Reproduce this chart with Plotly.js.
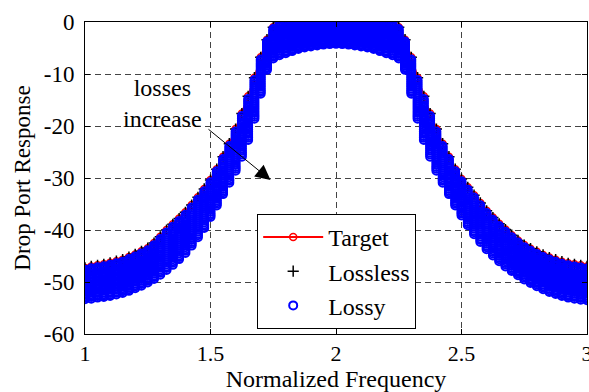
<!DOCTYPE html>
<html>
<head>
<meta charset="utf-8">
<script src="https://cdn.plot.ly/plotly-3.0.1.min.js"></script>
<style>
html,body{margin:0;padding:0;background:#fff;}
#chart{width:589px;height:392px;}
</style>
</head>
<body>
<div id="chart"></div>
<script>
// Normalized frequency samples
var freq = [1.000,1.025,1.050,1.075,1.100,1.125,1.150,1.175,1.200,1.225,1.250,1.275,1.300,1.325,1.350,1.375,1.400,1.425,1.450,1.475,
            1.500,1.525,1.550,1.575,1.600,1.625,1.650,1.675,1.700,1.725,1.750,1.775,1.800,1.825,1.850,1.875,1.900,1.925,1.950,1.975,
            2.000,2.025,2.050,2.075,2.100,2.125,2.150,2.175,2.200,2.225,2.250,2.275,2.300,2.325,2.350,2.375,2.400,2.425,2.450,2.475,
            2.500,2.525,2.550,2.575,2.600,2.625,2.650,2.675,2.700,2.725,2.750,2.775,2.800,2.825,2.850,2.875,2.900,2.925,2.950,2.975,3.000];

// Target drop port response (dB)
var target = [-47.3,-47.0,-46.8,-46.6,-46.3,-46.0,-45.7,-45.2,-44.7,-44.1,-43.5,-42.5,-41.3,-40.0,-38.9,-37.8,-36.6,-35.2,-33.7,-32.1,
              -30.4,-28.3,-25.9,-23.4,-20.6,-17.6,-14.3,-10.7,-6.8,-3.4,-1.0,0,0,0,0,0,0,0,0,0,
              0,0,0,0,0,0,0,0,0,0,-1.0,-3.4,-6.8,-10.7,-14.3,-17.6,-20.6,-23.4,-25.9,-28.3,
              -30.2,-31.8,-33.3,-34.8,-36.3,-37.6,-38.8,-39.9,-41.0,-42.0,-42.9,-43.6,-44.2,-44.8,-45.3,-45.7,-46.1,-46.4,-46.6,-46.8,-47.0];

// Lossless synthesized response (dB) - coincides with target
var lossless = [-47.3,-47.0,-46.8,-46.6,-46.3,-46.0,-45.7,-45.2,-44.7,-44.1,-43.5,-42.5,-41.3,-40.0,-38.9,-37.8,-36.6,-35.2,-33.7,-32.1,
              -30.4,-28.3,-25.9,-23.4,-20.6,-17.6,-14.3,-10.7,-6.8,-3.4,-1.0,0,0,0,0,0,0,0,0,0,
              0,0,0,0,0,0,0,0,0,0,-1.0,-3.4,-6.8,-10.7,-14.3,-17.6,-20.6,-23.4,-25.9,-28.3,
              -30.2,-31.8,-33.3,-34.8,-36.3,-37.6,-38.8,-39.9,-41.0,-42.0,-42.9,-43.6,-44.2,-44.8,-45.3,-45.7,-46.1,-46.4,-46.6,-46.8,-47.0];

// Lossy response at the highest loss (dB)
var lossyMax = [-53.3,-53.2,-53.0,-52.9,-52.7,-52.4,-52.1,-51.7,-51.2,-50.7,-50.1,-49.4,-48.6,-47.7,-46.7,-45.6,-44.4,-43.0,-41.4,-39.6,
                -37.5,-35.3,-33.1,-30.9,-28.6,-25.9,-22.7,-18.6,-13.8,-9.2,-7.0,-6.4,-6.0,-5.6,-5.2,-4.9,-4.7,-4.5,-4.35,-4.25,
                -4.2,-4.25,-4.35,-4.5,-4.7,-4.9,-5.2,-5.6,-6.0,-6.4,-7.0,-9.2,-13.8,-18.6,-22.7,-25.9,-28.6,-30.9,-33.1,-35.3,
                -37.2,-39.1,-40.8,-42.3,-43.7,-44.9,-46.0,-47.0,-47.9,-48.7,-49.5,-50.2,-50.8,-51.4,-51.9,-52.3,-52.7,-53.0,-53.2,-53.4,-53.5];

// Relative loss levels of the lossy family (fraction of highest loss)
var lossLevels = [0.06,0.11,0.16,0.21,0.26,0.31,0.36,0.41,0.46,0.51,0.56,0.61,0.66,0.71,0.76,0.81,0.86,0.91,0.95,1.00];

var legendNames = ['Target','Lossless','Lossy'];

// Build lossy family as one marker trace
var lx = [], ly = [];
for (var k = 0; k < lossLevels.length; k++) {
  for (var i = 0; i < freq.length; i++) {
    lx.push(freq[i]);
    ly.push(target[i] + lossLevels[k] * (lossyMax[i] - target[i]));
  }
}

var FONT = 'Liberation Serif';

var traces = [
  {x: freq, y: target, name: legendNames[0], type: 'scatter', mode: 'lines+markers',
   line: {color: '#ff0000', width: 2},
   marker: {symbol: 'circle-open', size: 7, color: '#ff0000', line: {width: 1.5, color: '#ff0000'}}},
  {x: freq, y: lossless, name: legendNames[1], type: 'scatter', mode: 'markers',
   marker: {symbol: 'cross-thin-open', size: 8, color: '#000000', line: {width: 1.5, color: '#000000'}}},
  {x: lx, y: ly, name: legendNames[2], type: 'scatter', mode: 'markers',
   marker: {symbol: 'circle-open', size: 8, color: '#0000ff', line: {width: 2, color: '#0000ff'}}}
];

var layout = {
  width: 589, height: 392,
  margin: {l: 85, r: 2, t: 22, b: 58},
  paper_bgcolor: '#ffffff', plot_bgcolor: '#ffffff',
  font: {family: FONT, size: 22, color: '#000000'},
  showlegend: true,
  legend: {x: 0.343, y: 0.385, xanchor: 'left', yanchor: 'top', itemwidth: 60,
           bgcolor: '#ffffff', bordercolor: '#000000', borderwidth: 1,
           font: {family: FONT, size: 24, color: '#000000'}, tracegroupgap: 0},
  xaxis: {range: [1, 3], tickvals: [1, 1.5, 2, 2.5, 3], ticktext: ['1', '1.5', '2', '2.5', '3'],
          ticks: 'inside', ticklen: 5, tickcolor: '#000000', ticklabeloverflow: 'allow',
          showline: true, linecolor: '#000000', linewidth: 1, mirror: 'ticks',
          showgrid: true, gridcolor: '#444444', gridwidth: 1, griddash: '6px,4px',
          zeroline: false, tickfont: {family: FONT, size: 22},
          title: {text: 'Normalized Frequency', font: {family: FONT, size: 24}, standoff: 6}},
  yaxis: {range: [-60, 0], tickvals: [-60, -50, -40, -30, -20, -10, 0],
          ticktext: ['-60', '-50', '-40', '-30', '-20', '-10', '0'],
          ticks: 'inside', ticklen: 5, tickcolor: '#000000', ticklabelstandoff: 5,
          showline: true, linecolor: '#000000', linewidth: 1, mirror: 'ticks',
          showgrid: true, gridcolor: '#444444', gridwidth: 1, griddash: '6px,4px',
          zeroline: false, tickfont: {family: FONT, size: 23},
          title: {text: 'Drop Port Response', font: {family: FONT, size: 23}, standoff: 6}},
  annotations: [
    {x: 1.308, y: -15.6, xref: 'x', yref: 'y', text: 'losses<br>increase', showarrow: false,
     font: {family: FONT, size: 24, color: '#000000'}, align: 'center', xanchor: 'center', yanchor: 'middle'},
    {x: 1.739, y: -30.4, xref: 'x', yref: 'y', ax: 1.486, ay: -20.4, axref: 'x', ayref: 'y',
     text: '', showarrow: true, arrowhead: 2, arrowsize: 3, arrowwidth: 1, arrowcolor: '#000000'}
  ]
};

Plotly.newPlot('chart', traces, layout, {displayModeBar: false, staticPlot: true});
</script>
</body>
</html>
